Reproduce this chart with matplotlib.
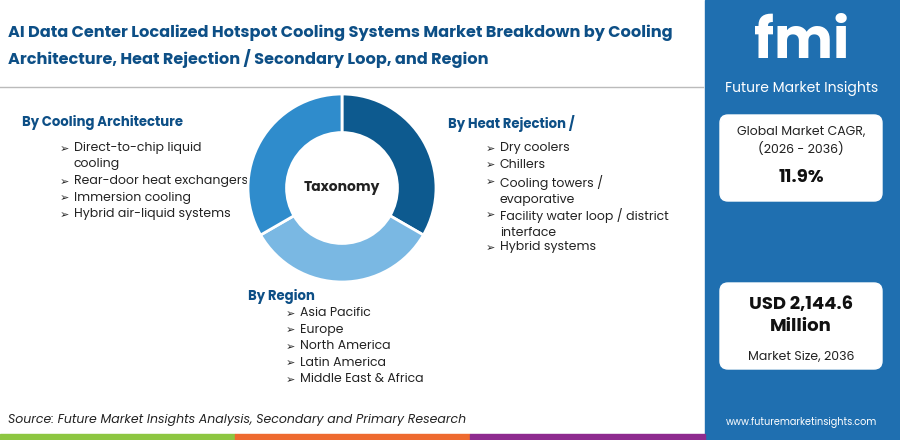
import matplotlib
matplotlib.use("Agg")
import matplotlib.pyplot as plt
from matplotlib.patches import FancyBboxPatch, Rectangle

plt.rcParams['font.family'] = ['Poppins', 'Lato', 'DejaVu Sans']

title = "AI Data Center Localized Hotspot Cooling Systems Market Breakdown by Cooling\nArchitecture, Heat Rejection / Secondary Loop, and Region"
seg_values = [1, 1, 1]
seg_colors = ["#0d5a8f", "#7ab8e3", "#2f8ccc"]
cat1_title = "By Cooling Architecture"
cat1 = ["Direct-to-chip liquid\ncooling", "Rear-door heat exchangers", "Immersion cooling", "Hybrid air-liquid systems"]
cat2_title = "By Heat Rejection /"
cat2 = ["Dry coolers", "Chillers", "Cooling towers /\nevaporative", "Facility water loop / district\ninterface", "Hybrid systems"]
cat3_title = "By Region"
cat3 = ["Asia Pacific", "Europe", "North America", "Latin America", "Middle East & Africa"]
cagr_label = "Global Market CAGR,\n(2026 - 2036)"
cagr = "11.9%"
size_value = "USD 2,144.6\nMillion"
size_label = "Market Size, 2036"
source = "Source: Future Market Insights Analysis, Secondary and Primary Research"

fig = plt.figure(figsize=(9, 4.4), dpi=100)
bg = fig.add_axes([0, 0, 1, 1])
bg.set_xlim(0, 900); bg.set_ylim(440, 0); bg.axis('off')

bg.text(8, 46, title, fontsize=11.6, fontweight='bold', color='#0d4f86', va='center', linespacing=1.55)
bg.plot([0, 703], [87, 87], color='#bbbbbb', lw=1)

# side panel
bg.add_patch(Rectangle((705, 0), 195, 440, color='#1f6fb0'))
bg.text(802, 45, "fmi", fontsize=40, fontweight='bold', color='white', ha='center', va='center')
bg.text(802, 89, "Future Market Insights", fontsize=10, color='white', ha='center', va='center')
bg.add_patch(FancyBboxPatch((720, 115), 162, 86, boxstyle="round,pad=0,rounding_size=8", color='white'))
bg.text(801, 141, cagr_label, fontsize=9, ha='center', va='center', color='#222', linespacing=1.4)
bg.text(801, 178, cagr, fontsize=13, fontweight='bold', ha='center', va='center', color='#111')
bg.add_patch(FancyBboxPatch((720, 283), 162, 86, boxstyle="round,pad=0,rounding_size=8", color='white'))
bg.text(801, 316, size_value, fontsize=13, fontweight='bold', ha='center', va='center', color='#111', linespacing=1.3)
bg.text(801, 357, size_label, fontsize=9, ha='center', va='center', color='#222')
bg.text(802, 422, "www.futuremarketinsights.com", fontsize=7, color='white', ha='center', va='center')

# bottom bars
bg.add_patch(Rectangle((0, 434), 235, 6, color='#8dc641'))
bg.add_patch(Rectangle((235, 434), 235, 6, color='#ee6a2f'))
bg.add_patch(Rectangle((470, 434), 235, 6, color='#8e2b8f'))
bg.text(8, 420, source, fontsize=9, style='italic', color='#222', va='center')

def block(x, y, head, items, first=26, step=16.5):
    bg.text(x, y, head, fontsize=9.5, fontweight='bold', color='#0d4f86', va='center')
    yy = y + first
    for it in items:
        bg.text(x + 38, yy, "➢", fontsize=8, color='#222', va='center', family='DejaVu Sans')
        lines = it.count("\n") + 1
        bg.text(x + 52, yy - 7, it, fontsize=9, color='#222', va='top', linespacing=1.45)
        yy += step * lines

block(22, 123, cat1_title, cat1)
block(448, 123, cat2_title, cat2)
block(248, 297, cat3_title, cat3, first=17)

R = 94
ax = fig.add_axes([(342-R)/900, 1-(188+R)/440, 2*R/900, 2*R/440])
ax.pie(seg_values, colors=seg_colors, startangle=90, counterclock=False, radius=1,
       wedgeprops=dict(width=0.41, edgecolor='white', linewidth=2))
ax.set_xlim(-1, 1); ax.set_ylim(-1, 1)
ax.set_aspect('equal')
ax.text(0, 0, "Taxonomy", ha='center', va='center', fontsize=10, fontweight='bold', color='#222')

fig.savefig("out.png", dpi=100)
